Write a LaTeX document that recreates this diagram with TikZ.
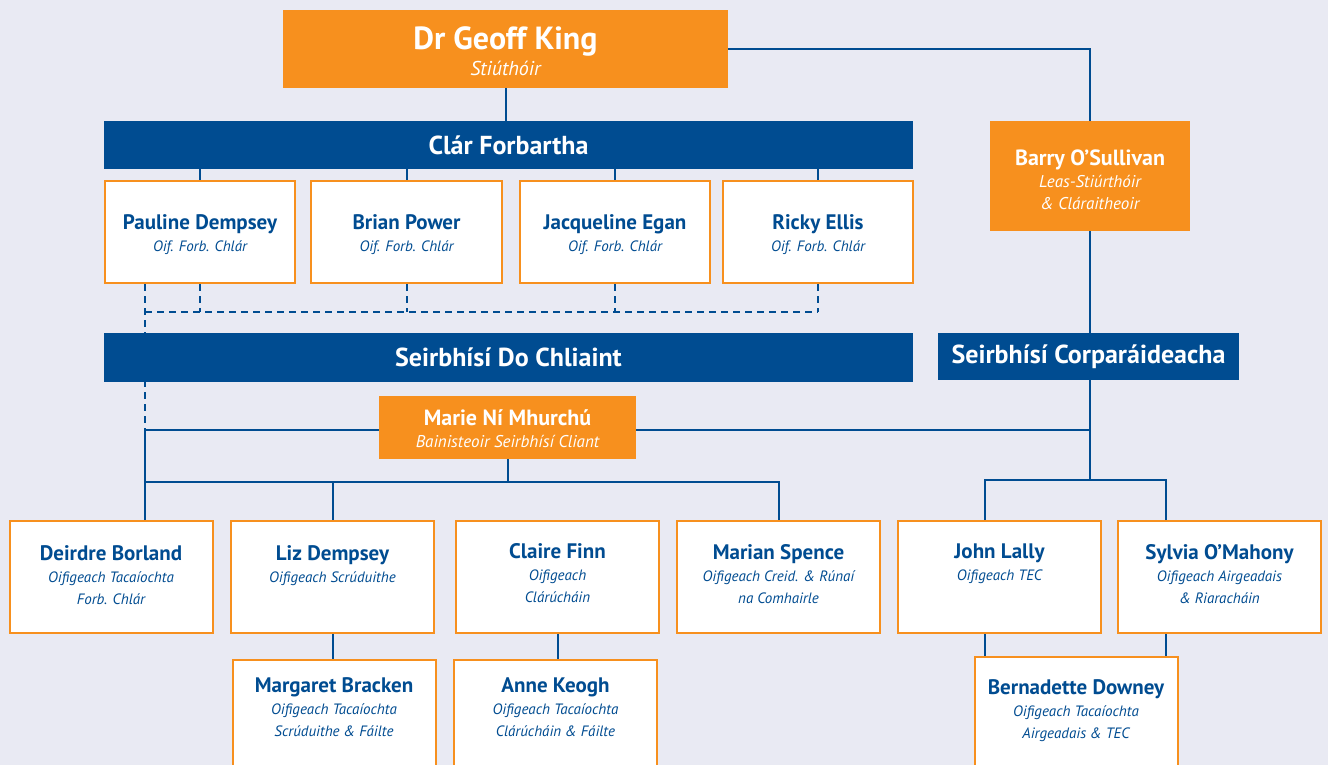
\documentclass[tikz,border=0pt]{standalone}
\usepackage{fontspec}
\setmainfont{PT Sans}
\usetikzlibrary{positioning,backgrounds}
\definecolor{myorange}{RGB}{247,144,30}
\definecolor{myblue}{RGB}{0,76,145}
\definecolor{mybg}{RGB}{233,234,243}
\newcommand{\nm}[1]{{\fontsize{21}{22}\selectfont\bfseries\upshape #1}}
\newcommand{\hnm}[1]{{\fontsize{22}{22}\selectfont\bfseries\upshape #1}}

\begin{document}
\begin{tikzpicture}[
  x=1pt, y=-1pt,
  headbox/.style={
    fill=myorange,
    inner sep=0pt
    },
  headtxt/.style={
    anchor=north,
    yshift=-#1,
    inner sep=0pt,
    align=center,
    text=white,
    font=\fontsize{17}{22}\selectfont\itshape
    },
  bar/.style={
    fill=myblue,
    text=white,
    inner sep=0pt,
    font=\fontsize{26}{28}\selectfont\bfseries
    },
  person/.style={
    draw=myorange,
    fill=white,
    line width=2pt,
    inner sep=0pt,
    minimum width=203pt,
    minimum height=112pt
    },
  who/.style={
    anchor=north,
    yshift=-#1,
    inner sep=0pt,
    align=center,
    text=myblue,
    font=\fontsize{15}{22}\selectfont\itshape
    },
  link/.style={draw=myblue, line width=2pt},
  dashlink/.style={link, dash pattern=on 7pt off 5pt}
]
\clip (0,0) rectangle (1328,765);

% top of the chart
\node[headbox, minimum width=445pt, minimum height=78pt,
  label={[headtxt=17pt, font=\fontsize{20}{26}\selectfont\itshape]north:{{\fontsize{32}{33}\selectfont\bfseries\upshape Dr Geoff King}\\ Stiúthóir}}]
  (geoff) at (505.5,49) {};
\node[bar, minimum width=809pt, minimum height=48pt] (clar) at (508.5,145) {Clár Forbartha};
\node[headbox, minimum width=200pt, minimum height=110pt,
  label={[headtxt=29pt]north:{\hnm{Barry O'Sullivan}\\ Leas-Stiúrthóir\\ \& Cláraitheoir}}]
  (barry) at (1090,176) {};

% development officers
\node[person, minimum width=190pt, minimum height=102pt,
  label={[who=34pt]north:{\nm{Pauline Dempsey}\\ Oif. Forb. Chlár}}] (pauline) at (200,232) {};
\node[person, minimum width=191pt, minimum height=102pt,
  label={[who=34pt]north:{\nm{Brian Power}\\ Oif. Forb. Chlár}}] (brian) at (406.5,232) {};
\node[person, minimum width=190pt, minimum height=102pt,
  label={[who=34pt]north:{\nm{Jacqueline Egan}\\ Oif. Forb. Chlár}}] (jacqueline) at (615,232) {};
\node[person, minimum width=190pt, minimum height=102pt,
  label={[who=34pt]north:{\nm{Ricky Ellis}\\ Oif. Forb. Chlár}}] (ricky) at (818,232) {};

\node[bar, minimum width=809pt, minimum height=49pt] (chliaint) at (508.5,357.5) {Seirbhísí Do Chliaint};
\node[bar, minimum width=301pt, minimum height=47pt] (corpar) at (1088.5,356.5) {Seirbhísí Corparáideacha};
\node[headbox, minimum width=257pt, minimum height=63pt,
  label={[headtxt=14pt]north:{\hnm{Marie Ní Mhurchú}\\ Bainisteoir Seirbhísí Cliant}}]
  (marie) at (507.5,427.5) {};

% second row
\node[person, label={[who=25pt]north:{\nm{Deirdre Borland}\\ Oifigeach Tacaíochta\\ Forb. Chlár}}] (deirdre) at (111,577) {};
\node[person, label={[who=25pt]north:{\nm{Liz Dempsey}\\ Oifigeach Scrúduithe}}] (liz) at (332.5,577) {};
\node[person, label={[who=23pt]north:{\nm{Claire Finn}\\ Oifigeach\\ Clárúcháin}}] (claire) at (557.5,577) {};
\node[person, label={[who=24pt]north:{\nm{Marian Spence}\\ Oifigeach Creid. \& Rúnaí\\ na Comhairle}}] (marian) at (778.5,577) {};
\node[person, label={[who=24pt]north:{\nm{John Lally}\\ Oifigeach TEC}}] (john) at (999.5,577) {};
\node[person, label={[who=24pt]north:{\nm{Sylvia O'Mahony}\\ Oifigeach Airgeadais\\ \& Riaracháin}}] (sylvia) at (1219.5,577) {};

% third row
\node[person, label={[who=18.5pt]north:{\nm{Margaret Bracken}\\ Oifigeach Tacaíochta\\ Scrúduithe \& Fáilte}}] (margaret) at (334,716) {};
\node[person, label={[who=18.5pt]north:{\nm{Anne Keogh}\\ Oifigeach Tacaíochta\\ Clárúcháin \& Fáilte}}] (anne) at (555.5,716) {};
\node[person, label={[who=23.5pt]north:{\nm{Bernadette Downey}\\ Oifigeach Tacaíochta\\ Airgeadais \& TEC}}] (bernadette) at (1076,713) {};

\coordinate (dashrow) at (145,312);
\coordinate (spine) at (145,430);
\coordinate (lfork) at (145,482);
\coordinate (rfork) at (1090,480);
\coordinate (jleg) at (985,480);
\coordinate (sleg) at (1166,480);

\begin{scope}[on background layer]
\fill[mybg] (0,0) rectangle (1328,765);
\draw[link] (geoff.south) -- (geoff.south |- clar.north);
\draw[link] (geoff.east) -| (barry.north);
\draw[link] (barry.south) -- (rfork);
\foreach \p in {pauline,brian,jacqueline,ricky} {
  \draw[link] (\p.north) -- (\p.north |- clar.south);
  \draw[dashlink] (\p.south) -- (\p.south |- dashrow);
}
\draw[dashlink] (dashrow) -- (dashrow -| ricky.south);
\draw[dashlink] (pauline.south -| spine) -- (spine);
\draw[link] (spine) -- (spine -| rfork);
\draw[link] (spine) -- (spine |- deirdre.north);
\draw[link] (marie.south) -- (marie.south |- lfork);
\draw[link] (lfork) -| (marian.north);
\draw[link] (liz.north |- lfork) -- (liz.north);
\draw[link] (liz.south) -- (liz.south |- margaret.north);
\draw[link] (claire.south) -- (claire.south |- anne.north);
\draw[link] (jleg |- john.north) -- (jleg) -- (sleg) -- (sleg |- sylvia.north);
\draw[link] (jleg |- john.south) -- (jleg |- bernadette.north);
\draw[link] (sleg |- sylvia.south) -- (sleg |- bernadette.north);
\end{scope}
\end{tikzpicture}
\end{document}
